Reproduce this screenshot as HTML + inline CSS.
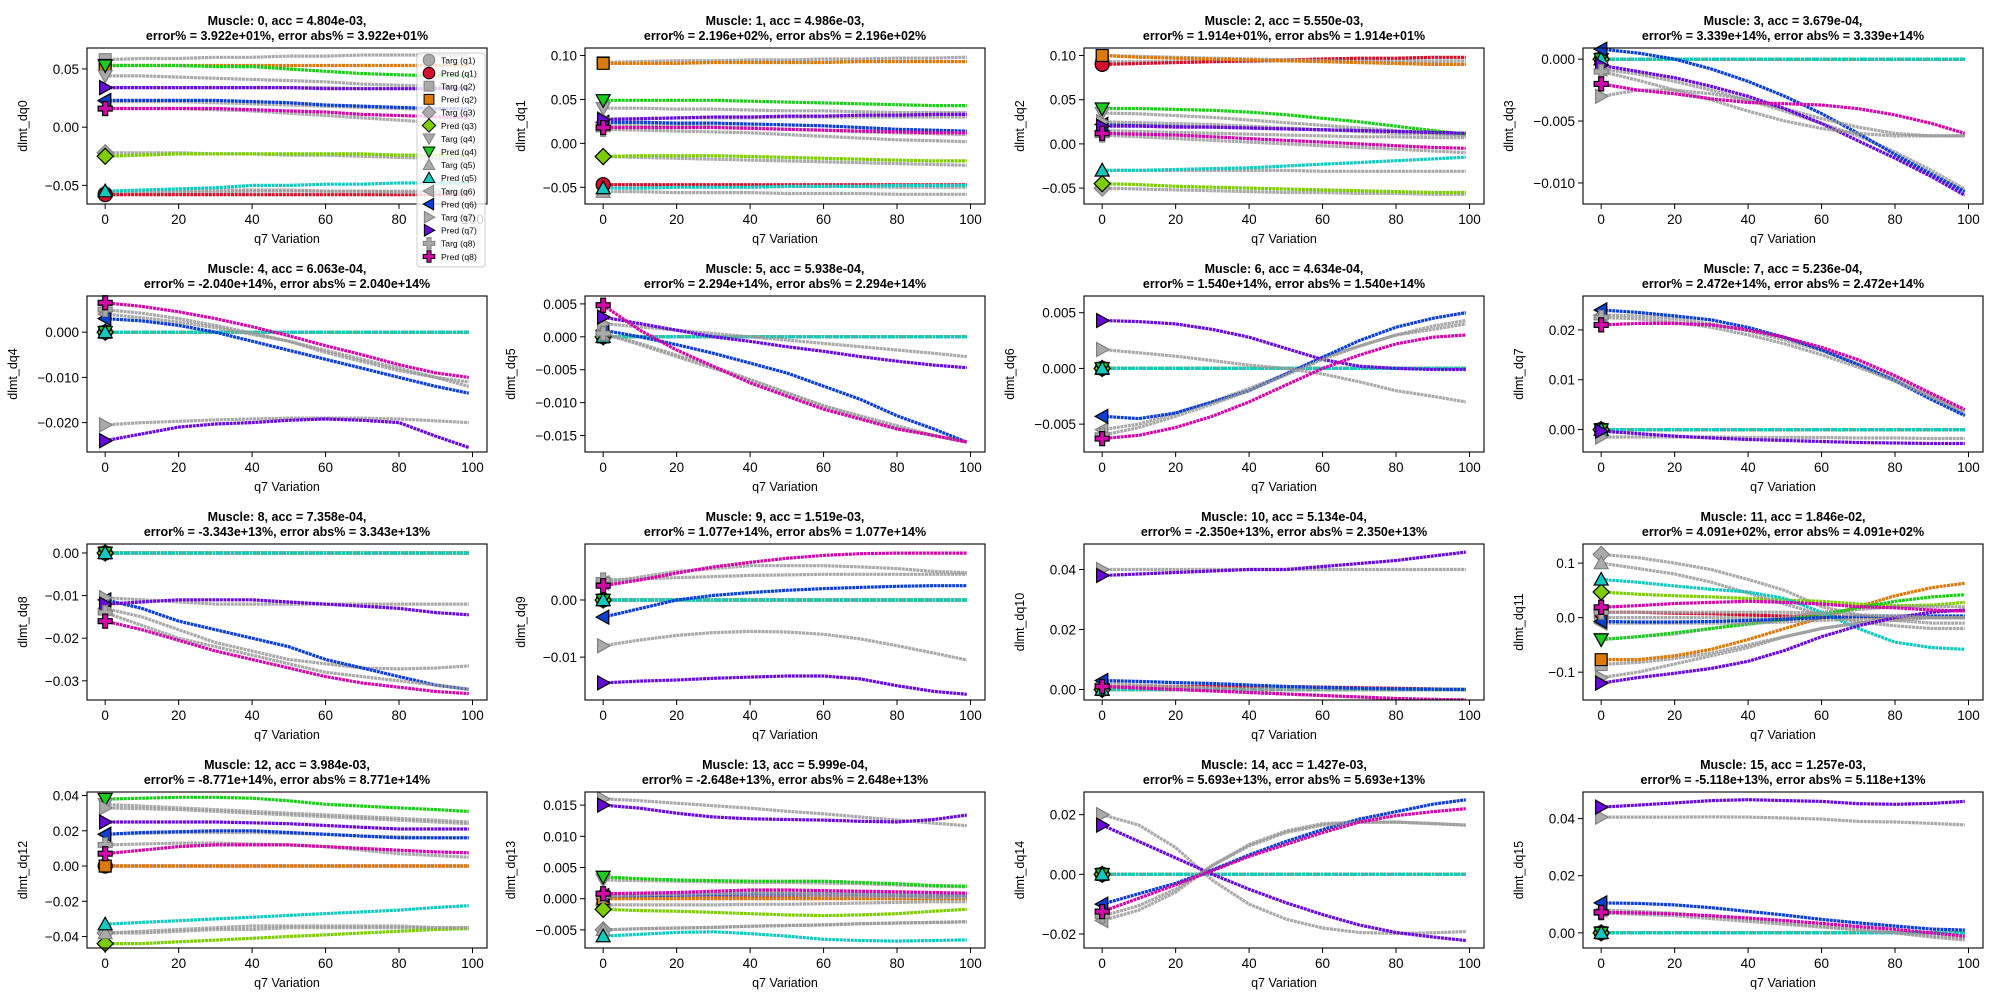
<!DOCTYPE html>
<html><head><meta charset="utf-8"><style>
html,body{margin:0;padding:0;background:#fff;}
svg{display:block;font-family:"Liberation Sans","DejaVu Sans",sans-serif;}
</style></head><body>
<svg id="fig" width="2000" height="1000" viewBox="0 0 2000 1000" xmlns="http://www.w3.org/2000/svg"></svg>
<script>
const X = [0,10,20,30,40,50,60,70,80,90,99];
const Z = [0,0,0,0,0,0,0,0,0,0,0];
const accs = ["4.804e-03","4.986e-03","5.550e-03","3.679e-04","6.063e-04","5.938e-04","4.634e-04","5.236e-04","7.358e-04","1.519e-03","5.134e-04","1.846e-02","3.984e-03","5.999e-04","1.427e-03","1.257e-03"];
const errs = ["3.922e+01","2.196e+02","1.914e+01","3.339e+14","-2.040e+14","2.294e+14","1.540e+14","2.472e+14","-3.343e+13","1.077e+14","-2.350e+13","4.091e+02","-8.771e+14","-2.648e+13","5.693e+13","-5.118e+13"];
const errAbs = ["3.922e+01","2.196e+02","1.914e+01","3.339e+14","2.040e+14","2.294e+14","1.540e+14","2.472e+14","3.343e+13","1.077e+14","2.350e+13","4.091e+02","8.771e+14","2.648e+13","5.693e+13","5.118e+13"];
const yLims = [[-0.066,0.068],[-0.069,0.1085],[-0.068,0.1085],[-0.0117,0.0009],[-0.0265,0.008],[-0.0175,0.0062],[-0.0075,0.0065],[-0.0045,0.0268],[-0.0345,0.0021],[-0.0175,0.0098],[-0.0035,0.0485],[-0.151,0.135],[-0.0465,0.042],[-0.0079,0.0171],[-0.0247,0.0276],[-0.0053,0.0493]];
const yTicks = [[0.05,0,-0.05],[0.10,0.05,0,-0.05],[0.10,0.05,0,-0.05],[0,-0.005,-0.010],[0,-0.010,-0.020],[0.005,0,-0.005,-0.010,-0.015],[0.005,0,-0.005],[0.02,0.01,0],[0,-0.01,-0.02,-0.03],[0,-0.01],[0.04,0.02,0],[0.1,0,-0.1],[0.04,0.02,0,-0.02,-0.04],[0.015,0.010,0.005,0,-0.005],[0.02,0,-0.02],[0.04,0.02,0]];
const yDec = [2,2,2,3,3,3,3,2,2,2,2,1,2,3,2,2];
const xTicks = [0,20,40,60,80,100];

const targ0 = [[-0.057,-0.057,-0.056,-0.056,-0.055,-0.055,-0.055,-0.055,-0.055,-0.055,-0.055],[0.058,0.059,0.059,0.060,0.060,0.061,0.061,0.062,0.062,0.062,0.062],[-0.022,-0.022,-0.022,-0.023,-0.023,-0.024,-0.024,-0.025,-0.026,-0.027,-0.027],[0.044,0.044,0.043,0.042,0.041,0.040,0.039,0.037,0.036,0.035,0.034],[-0.055,-0.055,-0.055,-0.054,-0.054,-0.054,-0.055,-0.055,-0.056,-0.056,-0.056],[0.022,0.022,0.022,0.021,0.020,0.019,0.018,0.017,0.016,0.015,0.015],[0.034,0.034,0.034,0.034,0.034,0.034,0.034,0.033,0.033,0.033,0.033],[0.016,0.016,0.016,0.015,0.014,0.012,0.010,0.008,0.006,0.004,0.003]];
const pred0 = [[-0.058,-0.058,-0.058,-0.058,-0.058,-0.058,-0.058,-0.058,-0.058,-0.058,-0.058],[0.053,0.053,0.053,0.053,0.053,0.053,0.053,0.053,0.053,0.053,0.053],[-0.025,-0.024,-0.023,-0.023,-0.023,-0.023,-0.023,-0.023,-0.024,-0.024,-0.024],[0.053,0.053,0.053,0.052,0.052,0.050,0.048,0.046,0.045,0.044,0.044],[-0.055,-0.054,-0.053,-0.052,-0.050,-0.050,-0.049,-0.049,-0.048,-0.048,-0.048],[0.023,0.023,0.023,0.023,0.022,0.021,0.019,0.018,0.017,0.016,0.016],[0.034,0.034,0.034,0.034,0.034,0.034,0.033,0.033,0.033,0.033,0.033],[0.016,0.016,0.016,0.016,0.015,0.014,0.013,0.011,0.010,0.009,0.008]];
const targ1 = [[-0.047,-0.047,-0.048,-0.048,-0.048,-0.049,-0.049,-0.049,-0.050,-0.050,-0.050],[0.092,0.093,0.094,0.094,0.095,0.095,0.096,0.096,0.097,0.097,0.098],[-0.015,-0.016,-0.017,-0.018,-0.019,-0.020,-0.021,-0.022,-0.023,-0.024,-0.025],[0.040,0.040,0.039,0.039,0.038,0.037,0.037,0.036,0.035,0.035,0.035],[-0.055,-0.055,-0.056,-0.056,-0.056,-0.057,-0.057,-0.057,-0.058,-0.058,-0.058],[0.022,0.021,0.020,0.019,0.018,0.016,0.015,0.013,0.012,0.011,0.010],[0.028,0.028,0.029,0.029,0.029,0.030,0.030,0.030,0.030,0.030,0.030],[0.016,0.015,0.014,0.013,0.012,0.010,0.008,0.006,0.004,0.003,0.002]];
const pred1 = [[-0.047,-0.047,-0.047,-0.047,-0.047,-0.047,-0.047,-0.047,-0.047,-0.047,-0.047],[0.091,0.091,0.091,0.092,0.092,0.092,0.092,0.093,0.093,0.093,0.093],[-0.015,-0.014,-0.014,-0.014,-0.015,-0.016,-0.017,-0.018,-0.019,-0.020,-0.020],[0.049,0.049,0.049,0.049,0.048,0.047,0.046,0.045,0.044,0.043,0.043],[-0.051,-0.051,-0.050,-0.050,-0.050,-0.049,-0.049,-0.049,-0.048,-0.048,-0.048],[0.024,0.024,0.023,0.023,0.022,0.021,0.020,0.018,0.016,0.015,0.014],[0.027,0.028,0.029,0.030,0.030,0.031,0.031,0.032,0.032,0.033,0.033],[0.018,0.018,0.018,0.018,0.017,0.016,0.015,0.014,0.013,0.012,0.012]];
const targ2 = [[0.093,0.093,0.093,0.093,0.093,0.094,0.094,0.094,0.094,0.094,0.094],[0.100,0.099,0.098,0.097,0.096,0.095,0.094,0.093,0.092,0.091,0.090],[-0.050,-0.051,-0.052,-0.053,-0.054,-0.055,-0.055,-0.056,-0.056,-0.057,-0.057],[0.035,0.034,0.032,0.030,0.027,0.024,0.021,0.018,0.015,0.012,0.010],[-0.030,-0.030,-0.030,-0.030,-0.030,-0.030,-0.031,-0.031,-0.031,-0.031,-0.031],[0.015,0.014,0.013,0.012,0.011,0.010,0.009,0.008,0.008,0.007,0.007],[0.025,0.024,0.023,0.022,0.020,0.018,0.016,0.014,0.012,0.011,0.010],[0.010,0.008,0.006,0.004,0.002,0.000,-0.002,-0.004,-0.006,-0.008,-0.010]];
const pred2 = [[0.090,0.091,0.092,0.093,0.094,0.095,0.096,0.097,0.097,0.098,0.098],[0.100,0.098,0.097,0.096,0.095,0.094,0.093,0.092,0.091,0.090,0.090],[-0.045,-0.046,-0.048,-0.049,-0.050,-0.051,-0.052,-0.053,-0.054,-0.055,-0.055],[0.040,0.040,0.039,0.038,0.036,0.033,0.029,0.025,0.020,0.015,0.011],[-0.030,-0.030,-0.029,-0.028,-0.027,-0.025,-0.023,-0.021,-0.019,-0.017,-0.015],[0.022,0.021,0.020,0.019,0.018,0.017,0.016,0.015,0.014,0.013,0.012],[0.020,0.020,0.019,0.019,0.018,0.017,0.016,0.015,0.014,0.013,0.012],[0.012,0.011,0.010,0.008,0.006,0.004,0.002,0.000,-0.002,-0.004,-0.005]];
const targ3 = [Z,Z,Z,Z,Z,[-0.0008,-0.0012,-0.0018,-0.0025,-0.0033,-0.0042,-0.0052,-0.0062,-0.0075,-0.0090,-0.0105],[-0.003,-0.0025,-0.0025,-0.0028,-0.0033,-0.004,-0.0048,-0.0055,-0.006,-0.0062,-0.0062],[-0.001,-0.0017,-0.0025,-0.0033,-0.0042,-0.005,-0.0056,-0.006,-0.0062,-0.0062,-0.0062]];
const pred3 = [Z,Z,Z,Z,Z,[0.0008,0.0005,0.0,-0.0008,-0.0018,-0.003,-0.0044,-0.006,-0.0077,-0.0093,-0.0107],[-0.0005,-0.001,-0.0015,-0.0022,-0.003,-0.004,-0.0052,-0.0066,-0.008,-0.0095,-0.011],[-0.002,-0.0025,-0.0028,-0.0032,-0.0035,-0.0036,-0.0037,-0.004,-0.0045,-0.0052,-0.006]];
const targ4 = [Z,Z,Z,Z,Z,[0.004,0.0032,0.0022,0.001,-0.0005,-0.002,-0.0045,-0.0065,-0.0085,-0.010,-0.011],[-0.0205,-0.020,-0.0197,-0.0194,-0.0192,-0.019,-0.019,-0.019,-0.0192,-0.0196,-0.020],[0.005,0.0042,0.003,0.0015,-0.0002,-0.002,-0.004,-0.006,-0.008,-0.010,-0.012]];
const pred4 = [Z,Z,Z,Z,Z,[0.003,0.0025,0.0015,0.0,-0.002,-0.004,-0.006,-0.008,-0.010,-0.012,-0.0135],[-0.024,-0.0225,-0.021,-0.0203,-0.020,-0.0195,-0.0192,-0.0195,-0.020,-0.023,-0.0255],[0.0065,0.0057,0.0045,0.003,0.0012,-0.0008,-0.003,-0.005,-0.0072,-0.009,-0.010]];
const targ5 = [Z,Z,Z,Z,Z,[0.0005,-0.0012,-0.003,-0.0048,-0.0065,-0.0085,-0.0105,-0.012,-0.0135,-0.015,-0.016],[0.002,0.0015,0.001,0.0005,0.0,-0.0005,-0.001,-0.0015,-0.002,-0.0025,-0.003],[0.0005,-0.001,-0.0028,-0.0045,-0.0065,-0.0085,-0.0105,-0.0122,-0.0138,-0.015,-0.016]];
const pred5 = [Z,Z,Z,Z,Z,[0.001,0.0,-0.0012,-0.0025,-0.004,-0.0055,-0.0075,-0.0095,-0.012,-0.014,-0.016],[0.003,0.002,0.001,0.0,-0.0007,-0.0015,-0.0022,-0.003,-0.0037,-0.0043,-0.0047],[0.0048,0.001,-0.002,-0.0045,-0.007,-0.009,-0.011,-0.0125,-0.014,-0.015,-0.016]];
const targ6 = [Z,Z,Z,Z,Z,[-0.0055,-0.005,-0.004,-0.003,-0.0018,-0.0005,0.001,0.002,0.003,0.0038,0.0043],[0.0017,0.0014,0.0011,0.0007,0.0003,0.0,-0.0005,-0.0012,-0.002,-0.0025,-0.003],[-0.006,-0.0053,-0.0043,-0.0032,-0.002,-0.0006,0.0008,0.002,0.003,0.0035,0.004]];
const pred6 = [Z,Z,Z,Z,Z,[-0.0043,-0.0045,-0.004,-0.003,-0.002,-0.0005,0.001,0.0025,0.0037,0.0045,0.005],[0.0043,0.0042,0.004,0.0035,0.0028,0.0018,0.0008,0.0002,0.0,-0.0001,-0.0001],[-0.0063,-0.006,-0.0053,-0.0043,-0.003,-0.0015,0.0,0.0012,0.0022,0.0028,0.003]];
const targ7 = [Z,Z,Z,Z,Z,[0.023,0.0228,0.0222,0.0212,0.0198,0.018,0.0158,0.0132,0.0103,0.0068,0.003],[-0.0015,-0.0015,-0.0015,-0.0015,-0.0016,-0.0016,-0.0016,-0.0017,-0.0017,-0.0018,-0.0018],[0.0225,0.0222,0.0215,0.0205,0.019,0.0172,0.015,0.0125,0.0097,0.0065,0.0035]];
const pred7 = [Z,Z,Z,Z,Z,[0.024,0.0235,0.0228,0.022,0.0205,0.0185,0.016,0.013,0.0098,0.006,0.0028],[-0.0003,-0.0008,-0.0013,-0.0017,-0.002,-0.0022,-0.0024,-0.0026,-0.0027,-0.0028,-0.0028],[0.021,0.0213,0.0213,0.021,0.020,0.0185,0.0165,0.014,0.0108,0.0072,0.004]];
const targ8 = [Z,Z,Z,Z,Z,[-0.013,-0.015,-0.018,-0.021,-0.023,-0.025,-0.026,-0.027,-0.0272,-0.027,-0.0265],[-0.0105,-0.011,-0.0115,-0.012,-0.012,-0.012,-0.012,-0.012,-0.012,-0.012,-0.012],[-0.014,-0.017,-0.020,-0.022,-0.024,-0.026,-0.028,-0.029,-0.030,-0.031,-0.032]];
const pred8 = [Z,Z,Z,Z,Z,[-0.011,-0.013,-0.016,-0.018,-0.020,-0.022,-0.025,-0.027,-0.029,-0.031,-0.032],[-0.012,-0.0115,-0.011,-0.011,-0.011,-0.0115,-0.012,-0.0125,-0.013,-0.014,-0.0145],[-0.016,-0.018,-0.0205,-0.023,-0.025,-0.027,-0.029,-0.0305,-0.0315,-0.0325,-0.033]];
const targ9 = [Z,Z,Z,Z,Z,[0.003,0.004,0.005,0.0055,0.006,0.006,0.006,0.0058,0.0055,0.005,0.0048],[-0.008,-0.007,-0.0062,-0.0057,-0.0055,-0.0056,-0.006,-0.0068,-0.008,-0.0093,-0.0105],[0.0035,0.0037,0.0039,0.0041,0.0043,0.0044,0.0045,0.0045,0.0045,0.0045,0.0045]];
const pred9 = [Z,Z,Z,Z,Z,[-0.003,-0.0015,0.0,0.0008,0.0013,0.0017,0.002,0.0022,0.0024,0.0025,0.0025],[-0.0145,-0.0142,-0.014,-0.0137,-0.0135,-0.0133,-0.0133,-0.0138,-0.015,-0.016,-0.0165],[0.0025,0.0035,0.0047,0.0058,0.0066,0.0073,0.0078,0.0081,0.0082,0.0082,0.0082]];
const targ10 = [Z,Z,Z,Z,Z,[0.002,0.0015,0.001,0.0005,0.0,0.0,0.0,0.0,0.0,0.0,0.0],[0.040,0.040,0.040,0.040,0.040,0.040,0.040,0.040,0.040,0.040,0.040],[0.001,0.0005,0.0,-0.0005,-0.001,-0.0015,-0.002,-0.0025,-0.003,-0.0033,-0.0035]];
const pred10 = [[0.001,0.001,0.001,0.001,0.001,0.001,0.0008,0.0006,0.0004,0.0002,0.0],Z,Z,Z,Z,[0.003,0.0027,0.0023,0.002,0.0015,0.001,0.0007,0.0004,0.0002,0.0001,0.0],[0.038,0.0385,0.039,0.0395,0.040,0.040,0.041,0.042,0.043,0.0445,0.0458],[0.001,0.0005,0.0,-0.0005,-0.001,-0.0015,-0.002,-0.0025,-0.003,-0.0033,-0.0035]];
const targ11 = [Z,[-0.086,-0.082,-0.075,-0.065,-0.05,-0.035,-0.02,-0.01,-0.005,0.0,0.0],[0.116,0.11,0.1,0.088,0.07,0.05,0.02,0.005,-0.005,-0.01,-0.01],[-0.04,-0.035,-0.03,-0.02,-0.01,0.0,0.01,0.015,0.02,0.02,0.02],[0.10,0.09,0.08,0.065,0.045,0.025,0.005,-0.008,-0.015,-0.02,-0.02],[-0.01,-0.01,-0.01,-0.01,-0.01,-0.008,-0.005,-0.003,0.0,0.0,0.0],[-0.11,-0.1,-0.085,-0.07,-0.055,-0.035,-0.02,-0.01,0.0,0.0,0.0],[0.01,0.01,0.01,0.01,0.01,0.01,0.008,0.005,0.003,0.0,0.0]];
const pred11 = [[0.01,0.01,0.008,0.007,0.005,0.003,0.002,0.001,0.0,0.0,0.0],[-0.077,-0.077,-0.07,-0.058,-0.04,-0.02,0.0,0.02,0.04,0.055,0.063],[0.047,0.043,0.04,0.038,0.035,0.032,0.03,0.025,0.022,0.023,0.028],[-0.04,-0.035,-0.028,-0.02,-0.012,-0.004,0.005,0.018,0.03,0.038,0.042],[0.07,0.065,0.058,0.052,0.047,0.035,0.01,-0.02,-0.045,-0.055,-0.058],[-0.007,-0.008,-0.008,-0.007,-0.005,-0.003,0.0,0.002,0.003,0.003,0.003],[-0.12,-0.11,-0.102,-0.093,-0.08,-0.06,-0.035,-0.015,0.0,0.01,0.014],[0.019,0.022,0.026,0.028,0.03,0.028,0.025,0.02,0.018,0.014,0.012]];
const targ12 = [Z,Z,[-0.038,-0.038,-0.037,-0.036,-0.036,-0.035,-0.035,-0.035,-0.035,-0.035,-0.035],[0.035,0.034,0.033,0.032,0.031,0.030,0.029,0.028,0.027,0.026,0.025],[-0.038,-0.037,-0.036,-0.035,-0.034,-0.034,-0.034,-0.034,-0.034,-0.035,-0.035],[0.018,0.0185,0.019,0.019,0.019,0.0185,0.018,0.017,0.0165,0.016,0.016],[0.033,0.0325,0.032,0.031,0.030,0.029,0.028,0.027,0.026,0.025,0.024],[0.012,0.0125,0.013,0.013,0.0125,0.012,0.011,0.009,0.007,0.006,0.005]];
const pred12 = [Z,Z,[-0.044,-0.044,-0.043,-0.042,-0.041,-0.040,-0.039,-0.038,-0.037,-0.036,-0.0355],[0.038,0.0385,0.039,0.039,0.0385,0.037,0.035,0.034,0.033,0.032,0.031],[-0.033,-0.032,-0.031,-0.030,-0.029,-0.028,-0.027,-0.026,-0.025,-0.0235,-0.0225],[0.018,0.019,0.0195,0.020,0.020,0.019,0.018,0.017,0.016,0.016,0.016],[0.025,0.025,0.025,0.025,0.0245,0.024,0.023,0.022,0.021,0.021,0.021],[0.007,0.009,0.011,0.012,0.012,0.012,0.011,0.010,0.009,0.008,0.0075]];
const targ13 = [[-0.001,-0.001,-0.001,-0.001,-0.0009,-0.0009,-0.0008,-0.0007,-0.0006,-0.0005,-0.0005],Z,[-0.005,-0.0048,-0.0047,-0.0046,-0.0044,-0.0043,-0.0042,-0.004,-0.0039,-0.0038,-0.0037],[0.003,0.0029,0.0028,0.0027,0.0026,0.0026,0.0025,0.0024,0.0022,0.002,0.0019],[-0.005,-0.0048,-0.0047,-0.0046,-0.0044,-0.0043,-0.0042,-0.004,-0.0039,-0.0038,-0.0037],[0.0005,0.0005,0.0005,0.0006,0.0006,0.0006,0.0005,0.0004,0.0003,0.0002,0.0002],[0.016,0.0157,0.0153,0.0149,0.0145,0.014,0.0136,0.0131,0.0126,0.0121,0.0117],[0.0005,0.0006,0.0007,0.0008,0.0009,0.0009,0.0008,0.0007,0.0006,0.0005,0.0004]];
const pred13 = [[0.0003,0.0003,0.0003,0.0003,0.0003,0.0003,0.0003,0.0003,0.0003,0.0003,0.0003],Z,[-0.0017,-0.0019,-0.002,-0.0022,-0.0024,-0.0026,-0.0027,-0.0026,-0.0024,-0.002,-0.0017],[0.0035,0.0032,0.003,0.0029,0.0028,0.0028,0.0028,0.0026,0.0024,0.0021,0.002],[-0.006,-0.0057,-0.0054,-0.0053,-0.0056,-0.006,-0.0065,-0.0067,-0.0068,-0.0067,-0.0066],[0.0005,0.0005,0.0006,0.0007,0.0008,0.0008,0.0008,0.0007,0.0006,0.0005,0.0005],[0.015,0.0145,0.0137,0.0131,0.0128,0.0127,0.0126,0.0124,0.0123,0.0127,0.0134],[0.0008,0.0009,0.001,0.0012,0.0014,0.0014,0.0013,0.0012,0.0011,0.001,0.0009]];
const targ14 = [Z,Z,Z,Z,Z,[-0.0155,-0.012,-0.006,0.003,0.010,0.0145,0.017,0.0175,0.0175,0.017,0.0165],[0.020,0.0165,0.009,-0.002,-0.010,-0.015,-0.018,-0.0195,-0.0198,-0.0196,-0.0192],[-0.014,-0.0105,-0.005,0.003,0.0095,0.014,0.0165,0.0175,0.0175,0.017,0.0165]];
const pred14 = [Z,Z,Z,Z,Z,[-0.010,-0.0065,-0.003,0.0015,0.0065,0.011,0.015,0.0185,0.021,0.0235,0.025],[0.0165,0.011,0.0055,0.0,-0.005,-0.0095,-0.0135,-0.017,-0.0195,-0.021,-0.0222],[-0.0125,-0.008,-0.0035,0.0012,0.006,0.010,0.014,0.0175,0.0197,0.021,0.022]];
const targ15 = [Z,Z,Z,Z,Z,[0.008,0.0075,0.0068,0.0058,0.0047,0.0035,0.0023,0.0012,0.0,-0.001,-0.002],[0.0405,0.0405,0.0405,0.0406,0.0405,0.0402,0.0398,0.039,0.0388,0.0383,0.0378],[0.007,0.0065,0.006,0.005,0.004,0.003,0.002,0.001,0.0,-0.0015,-0.0025]];
const pred15 = [Z,Z,Z,Z,Z,[0.0105,0.0103,0.0098,0.0088,0.0075,0.0062,0.0047,0.0035,0.0024,0.0013,0.001],[0.044,0.0447,0.0455,0.0463,0.0466,0.0463,0.046,0.0452,0.045,0.0453,0.046],[0.0072,0.007,0.0066,0.006,0.0052,0.0043,0.0033,0.0022,0.0012,0.0,-0.0012]];

const TARG = [targ0,targ1,targ2,targ3,targ4,targ5,targ6,targ7,targ8,targ9,targ10,targ11,targ12,targ13,targ14,targ15];
const PRED = [pred0,pred1,pred2,pred3,pred4,pred5,pred6,pred7,pred8,pred9,pred10,pred11,pred12,pred13,pred14,pred15];

const predColors = ["#d4102e","#d97a0a","#7ccc00","#1ccc1c","#12c9c0","#0a3fd0","#6a0ad8","#d00aa8"];
const markers = ["o","s","D","v","^","<",">","P"];
const TGRAY = "#9a9a9a";
const colL = [87,585,1084,1583], rowT = [48,296,544,792], AW = 400, AH = 156;
const XMIN = -4.95, XMAX = 103.95;
const NS = "http://www.w3.org/2000/svg";
const svg = document.getElementById('fig');

function el(tag, attrs, parent){
  const e = document.createElementNS(NS, tag);
  for (const k in attrs) e.setAttribute(k, attrs[k]);
  (parent||svg).appendChild(e);
  return e;
}
function fmt(v,d){ const s = Math.abs(v).toFixed(d); return (v<0 && parseFloat(s)!==0 ? "\u2212" : "") + s; }
function markerPath(t, x, y, r){
  switch(t){
    case "s": return `M${x-r*0.85},${y-r*0.85}h${r*1.7}v${r*1.7}h${-r*1.7}z`;
    case "D": return `M${x},${y-r*1.15}L${x+r*1.15},${y}L${x},${y+r*1.15}L${x-r*1.15},${y}z`;
    case "v": return `M${x-r},${y-r*0.8}L${x+r},${y-r*0.8}L${x},${y+r}z`;
    case "^": return `M${x-r},${y+r*0.8}L${x+r},${y+r*0.8}L${x},${y-r}z`;
    case "<": return `M${x+r*0.8},${y-r}L${x+r*0.8},${y+r}L${x-r},${y}z`;
    case ">": return `M${x-r*0.8},${y-r}L${x-r*0.8},${y+r}L${x+r},${y}z`;
    case "P": { const a=r*0.35, b=r; return `M${x-a},${y-b}h${2*a}v${b-a}h${b-a}v${2*a}h${-(b-a)}v${b-a}h${-2*a}v${-(b-a)}h${-(b-a)}v${-2*a}h${b-a}z`; }
    default: return `M${x-r},${y}a${r},${r} 0 1,0 ${2*r},0a${r},${r} 0 1,0 ${-2*r},0z`;
  }
}

for (let m=0; m<16; m++){
  const L = colL[m%4], T = rowT[Math.floor(m/4)];
  const [y0,y1] = yLims[m];
  const sx = v => L + (v - XMIN)/(XMAX - XMIN)*AW;
  const sy = v => T + AH - (v - y0)/(y1 - y0)*AH;
  const g = el('g', {});
  
  
  const tt = el('text', {x:L+AW/2, y:T-23, 'text-anchor':'middle', 'font-size':12.5, 'font-weight':'bold'}, g);
  tt.textContent = `Muscle: ${m}, acc = ${accs[m]},`;
  
  
  const tt2 = el('text', {x:L+AW/2, y:T-8, 'text-anchor':'middle', 'font-size':12.5, 'font-weight':'bold'}, g);
  tt2.textContent = `error% = ${errs[m]}%, error abs% = ${errAbs[m]}%`;
  
  
  const clipId = 'c'+m;
  const cp = el('clipPath', {id:clipId}, g);
  el('rect', {x:L, y:T, width:AW, height:AH}, cp);
  const plot = el('g', {'clip-path':`url(#${clipId})`}, g);
  for (let q=0; q<8; q++){
    [[TARG[m][q], TGRAY, 0.85],[PRED[m][q], predColors[q], 1]].forEach(([vals,col,op],k)=>{
      const pts = X.map((x,i)=>sx(x).toFixed(1)+','+sy(vals[i]).toFixed(1)).join(' ');
      const pl = el('polyline', {points:pts, fill:'none', stroke:col, 'stroke-width':3.2, 'stroke-dasharray':'3 0.7', opacity:op}, plot);
      
      
    });
  }
  for (let q=0; q<8; q++){
    const tm = el('path', {d:markerPath(markers[q], sx(0), sy(TARG[m][q][0]), 7), fill:'#aaaaaa', stroke:'#808080', 'stroke-width':1.2}, g);
    
    
    const pm = el('path', {d:markerPath(markers[q], sx(0), sy(PRED[m][q][0]), 7), fill:predColors[q], stroke:'#000', 'stroke-width':1.2}, g);
    
    
  }
  const fr = el('rect', {x:L, y:T, width:AW, height:AH, fill:'none', stroke:'#000', 'stroke-width':1.1}, g);
  
  
  xTicks.forEach(v=>{
    const x = sx(v);
    el('line', {x1:x, x2:x, y1:T+AH, y2:T+AH+5, stroke:'#000', 'stroke-width':1}, g);
    const t = el('text', {x:x, y:T+AH+20, 'text-anchor':'middle', 'font-size':13.5}, g);
    t.textContent = v;
    
    
  });
  yTicks[m].forEach(v=>{
    const y = sy(v);
    el('line', {x1:L-5, x2:L, y1:y, y2:y, stroke:'#000', 'stroke-width':1}, g);
    const t = el('text', {x:L-8, y:y+5, 'text-anchor':'end', 'font-size':13.5}, g);
    t.textContent = fmt(v, yDec[m]);
    
    
  });
  const xl = el('text', {x:L+AW/2, y:T+AH+39, 'text-anchor':'middle', 'font-size':12.5}, g);
  xl.textContent = 'q7 Variation';
  
  
  const yx = L - (yDec[m]===3 ? 70 : 60), yy = T + AH/2;
  const yl = el('text', {x:yx, y:yy, 'text-anchor':'middle', 'font-size':12.5, transform:`rotate(-90 ${yx} ${yy})`}, g);
  yl.textContent = 'dlmt_dq'+m;
  
  
}

// legend
const lg = el('g', {});


el('rect', {x:417, y:53, width:68, height:214, rx:3, fill:'#fff', 'fill-opacity':0.8, stroke:'#ccc', 'stroke-width':1}, lg);
for (let i=0; i<16; i++){
  const q = Math.floor(i/2), isPred = i%2===1;
  const y = 60 + i*13.1;
  const mk = el('path', {d:markerPath(markers[q], 429, y, 5.8), fill:isPred?predColors[q]:'#aaaaaa', stroke:isPred?'#000':'#808080', 'stroke-width':1}, lg);
  
  
  const t = el('text', {x:441, y:y+3.3, 'font-size':8.6}, lg);
  t.textContent = (isPred?'Pred':'Targ')+' (q'+(q+1)+')';
  
  
}
</script>
</body></html>
